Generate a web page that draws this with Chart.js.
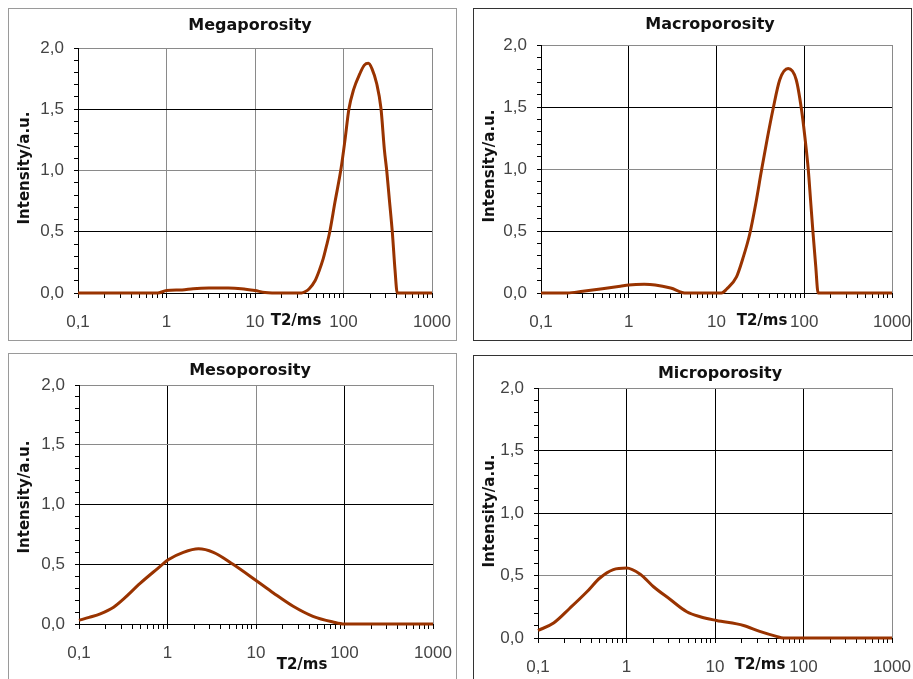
<!DOCTYPE html>
<html>
<head>
<meta charset="utf-8">
<script src="https://cdn.jsdelivr.net/npm/chart.js@4.4.1/dist/chart.umd.min.js"></script>
<style>
  html, body { margin: 0; padding: 0; background: #fff; width: 913px; height: 679px; overflow: hidden; }
  .frame { position: absolute; box-sizing: border-box; border: 1px solid #999; background: #fff; }
  .frame canvas { position: absolute; left: 0; top: 0; }
</style>
</head>
<body>
<div id="root"></div>
<script>
// ---------------- DATA ----------------
const panelTitles = ["Megaporosity", "Macroporosity", "Mesoporosity", "Microporosity"];
const xAxisLabel = "T2/ms";
const yAxisLabel = "Intensity/a.u.";
const xTickValues = [0.1, 1, 10, 100, 1000];
const yTickValues = [0, 0.5, 1.0, 1.5, 2.0];

const megaT2 = [0.1, 0.5, 0.8, 1, 1.5, 2, 3, 5, 7, 10, 13, 20, 33.6, 36.7, 41, 47.7, 53, 59, 64, 70, 80, 94, 104, 115, 130, 153, 172, 191, 210, 237, 265, 290, 308, 330, 357, 382, 405, 500, 1000];
const megaIntensity = [0, 0, 0, 0.02, 0.025, 0.035, 0.04, 0.04, 0.035, 0.02, 0.005, 0, 0, 0.01, 0.035, 0.1, 0.18, 0.28, 0.38, 0.5, 0.74, 1.02, 1.25, 1.5, 1.66, 1.79, 1.86, 1.875, 1.83, 1.71, 1.508, 1.167, 0.998, 0.76, 0.487, 0.188, 0, 0, 0];

const macroT2 = [0.1, 0.2, 0.3, 0.5, 0.8, 1, 1.5, 2, 3, 4.5, 8, 11.4, 13, 16.9, 20, 24, 28, 32.5, 38, 44, 52.6, 65.5, 81, 93, 102, 111, 118, 126, 135, 144, 200, 1000];
const macroIntensity = [0, 0, 0.015, 0.035, 0.055, 0.065, 0.07, 0.065, 0.04, 0, 0, 0, 0.03, 0.13, 0.28, 0.48, 0.72, 0.985, 1.25, 1.48, 1.72, 1.81, 1.72, 1.48, 1.25, 1.0, 0.75, 0.48, 0.22, 0, 0, 0];

const mesoT2 = [0.1, 0.13, 0.174, 0.246, 0.32, 0.49, 0.76, 1.03, 1.51, 2.24, 3.3, 5.5, 10.2, 15.7, 26.3, 44, 74, 100, 1000];
const mesoIntensity = [0.03, 0.055, 0.085, 0.14, 0.21, 0.34, 0.46, 0.54, 0.6, 0.63, 0.6, 0.5, 0.36, 0.26, 0.148, 0.064, 0.017, 0, 0];

const microT2 = [0.1, 0.15, 0.23, 0.357, 0.5, 0.71, 1.0, 1.43, 2.02, 3.1, 4.8, 6.8, 10.4, 21, 32, 49.5, 59, 100, 1000];
const microIntensity = [0.06, 0.12, 0.24, 0.37, 0.48, 0.547, 0.56, 0.51, 0.41, 0.31, 0.21, 0.17, 0.14, 0.1, 0.053, 0.013, 0, 0, 0];

// ---------------- LAYOUT / STYLE ----------------
const BLACK = '#000', GREY = '#8a8a8a';
const panels = [
  { title: panelTitles[0], xs: megaT2, ys: megaIntensity,
    frame: {l: 8, t: 8, r: 457, b: 341}, frameColor: '#9a9a9a',
    plot: {l: 78, t: 48, r: 432, b: 293},
    titlePos: [250, 26], yLabPos: [25, 168], xLabPos: [296, 321],
    xGrid: {1: GREY, 10: GREY, 100: GREY}, yGrid: {0.5: BLACK, 1: GREY, 1.5: BLACK} },
  { title: panelTitles[1], xs: macroT2, ys: macroIntensity,
    frame: {l: 473, t: 8, r: 912, b: 341}, frameColor: '#333',
    plot: {l: 541, t: 45, r: 892, b: 293},
    titlePos: [710, 25], yLabPos: [490, 166], xLabPos: [762, 321],
    xGrid: {1: BLACK, 10: BLACK, 100: BLACK}, yGrid: {0.5: BLACK, 1: GREY, 1.5: BLACK} },
  { title: panelTitles[2], xs: mesoT2, ys: mesoIntensity,
    frame: {l: 8, t: 353, r: 457, b: 700}, frameColor: '#9a9a9a',
    plot: {l: 79, t: 385, r: 433, b: 624},
    titlePos: [250, 371], yLabPos: [25, 497], xLabPos: [302, 665],
    xGrid: {1: BLACK, 10: GREY, 100: BLACK}, yGrid: {0.5: BLACK, 1: BLACK, 1.5: GREY} },
  { title: panelTitles[3], xs: microT2, ys: microIntensity,
    frame: {l: 473, t: 355, r: 930, b: 700}, frameColor: '#333',
    plot: {l: 538, t: 388, r: 892, b: 638},
    titlePos: [720, 374], yLabPos: [490, 511], xLabPos: [760, 665],
    xGrid: {1: BLACK, 10: BLACK, 100: BLACK}, yGrid: {0.5: GREY, 1: BLACK, 1.5: BLACK} }
];

const Y_AXIS_W = 50, X_AXIS_H = 40;
const xMinorTicks = [];
for (let e = -1; e < 3; e++) for (let m = 1; m < 10; m++) xMinorTicks.push(+(m * Math.pow(10, e)).toPrecision(3));
xMinorTicks.push(1000);

function fmt(v, digits) { return (digits === undefined ? String(v) : v.toFixed(digits)).replace('.', ','); }
function isDecade(v) { return xTickValues.some(d => Math.abs(d - v) / d < 1e-6); }
function isMajorY(v) { return yTickValues.some(d => Math.abs(d - v) < 1e-6); }
function gridFor(map, v, topVal, topColor) {
  if (Math.abs(v - topVal) / topVal < 1e-6) return topColor;
  for (const k in map) { if (Math.abs(+k - v) < 1e-6 * Math.max(1, +k)) return map[k]; }
  return 'rgba(0,0,0,0)';
}

const textPlugin = {
  id: 'panelText',
  afterDraw(chart) {
    const p = chart.options.plugins.panelText;
    const ctx = chart.ctx;
    ctx.save();
    ctx.fillStyle = '#111';
    ctx.textAlign = 'center';
    ctx.textBaseline = 'middle';
    ctx.font = 'bold 16px "DejaVu Sans"';
    ctx.fillText(p.title, p.titlePos[0] - p.ox, p.titlePos[1] - p.oy);
    ctx.font = 'bold 15px "DejaVu Sans"';
    ctx.fillText(xAxisLabel, p.xLabPos[0] - p.ox, p.xLabPos[1] - p.oy);
    ctx.translate(p.yLabPos[0] - p.ox, p.yLabPos[1] - p.oy);
    ctx.rotate(-Math.PI / 2);
    ctx.fillText(yAxisLabel, 0, 0);
    ctx.restore();
  }
};

const root = document.getElementById('root');
panels.forEach((p) => {
  const div = document.createElement('div');
  div.className = 'frame';
  div.style.left = p.frame.l + 'px';
  div.style.top = p.frame.t + 'px';
  div.style.width = (p.frame.r - p.frame.l) + 'px';
  div.style.height = (p.frame.b - p.frame.t) + 'px';
  div.style.borderColor = p.frameColor;
  const cv = document.createElement('canvas');
  const ox = p.frame.l + 1, oy = p.frame.t + 1;
  const cw = p.frame.r - p.frame.l - 2, ch = p.frame.b - p.frame.t - 2;
  cv.width = cw; cv.height = ch;
  cv.style.width = cw + 'px'; cv.style.height = ch + 'px';
  div.appendChild(cv);
  root.appendChild(div);

  const padding = {
    left: p.plot.l - ox - Y_AXIS_W,
    top: p.plot.t - oy,
    right: ox + cw - p.plot.r,
    bottom: oy + ch - p.plot.b - X_AXIS_H
  };

  new Chart(cv, {
    type: 'line',
    data: {
      datasets: [{
        data: p.xs.map((x, i) => ({x: x, y: p.ys[i]})),
        borderColor: '#993300',
        borderWidth: 3,
        pointRadius: 0,
        fill: false,
        cubicInterpolationMode: 'monotone',
        clip: 2
      }]
    },
    options: {
      responsive: false,
      animation: false,
      devicePixelRatio: 1,
      layout: { padding },
      plugins: {
        legend: { display: false },
        tooltip: { enabled: false },
        title: { display: false },
        panelText: { title: p.title, titlePos: p.titlePos, yLabPos: p.yLabPos, xLabPos: p.xLabPos, ox, oy }
      },
      scales: {
        x: {
          type: 'logarithmic',
          min: 0.1, max: 1000,
          afterBuildTicks: (s) => { s.ticks = xMinorTicks.map(v => ({value: v})); },
          afterFit: (s) => { s.height = X_AXIS_H; s.paddingLeft = 0; s.paddingRight = 0; },
          grid: {
            color: (c) => gridFor(p.xGrid, c.tick ? c.tick.value : 0, 1000, GREY),
            lineWidth: 1,
            tickColor: '#000',
            tickLength: 5,
            drawTicks: true
          },
          border: { display: true, color: '#000', width: 1 },
          ticks: {
            autoSkip: false,
            maxRotation: 0,
            minRotation: 0,
            padding: 14,
            color: '#444',
            font: { family: '"Liberation Sans", Arial, sans-serif', size: 17 },
            callback: (v) => isDecade(v) ? fmt(v) : ''
          }
        },
        y: {
          type: 'linear',
          min: 0, max: 2,
          afterBuildTicks: (s) => { const t = []; for (let i = 0; i <= 20; i++) t.push({value: i / 10}); s.ticks = t; },
          afterFit: (s) => { s.width = Y_AXIS_W; },
          grid: {
            color: (c) => gridFor(p.yGrid, c.tick ? c.tick.value : 0, 2, GREY),
            lineWidth: 1,
            tickColor: '#000',
            tickLength: 4,
            drawTicks: true
          },
          border: { display: true, color: '#000', width: 1 },
          ticks: {
            autoSkip: false,
            padding: 10,
            color: '#444',
            font: { family: '"Liberation Sans", Arial, sans-serif', size: 17 },
            callback: (v) => isMajorY(v) ? fmt(v, 1) : ''
          }
        }
      }
    },
    plugins: [textPlugin]
  });
});
</script>
</body>
</html>
